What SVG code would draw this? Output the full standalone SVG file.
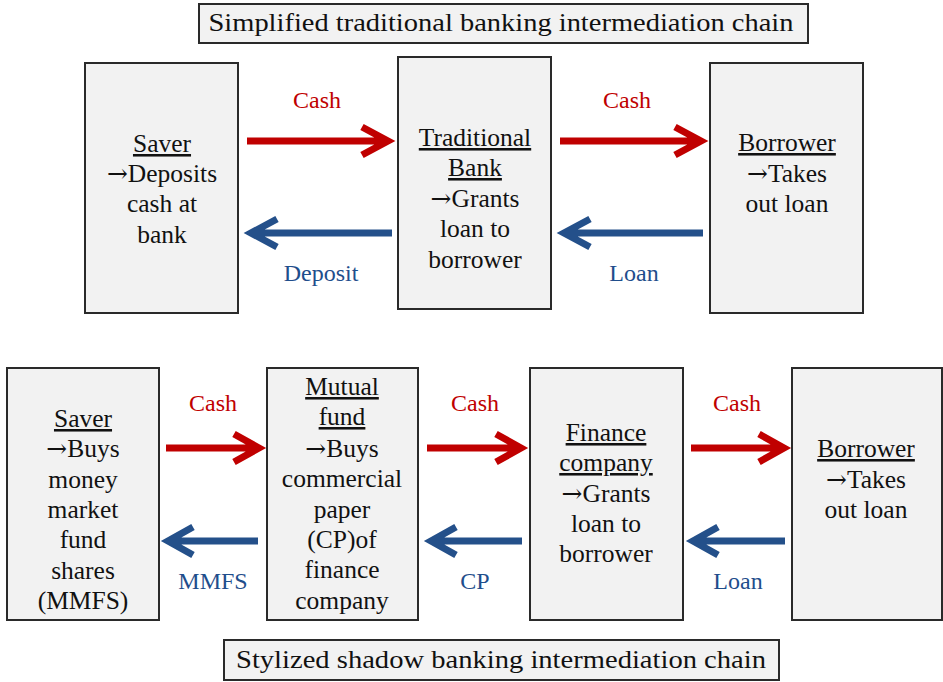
<svg xmlns="http://www.w3.org/2000/svg" width="943" height="682" viewBox="0 0 943 682">
<style>
.bg{fill:#ffffff}
.box{fill:#f2f2f2;stroke:#2a2a2a;stroke-width:2}
.t{font-family:"Liberation Serif","DejaVu Serif",serif;font-size:25.5px;fill:#111;text-anchor:middle}
.h{text-decoration:underline}
.a{font-family:"DejaVu Serif",serif;font-size:25px}
.tt{font-family:"Liberation Serif","DejaVu Serif",serif;font-size:25px;fill:#111;text-anchor:middle}
.lr{font-family:"Liberation Serif","DejaVu Serif",serif;font-size:24px;fill:#c00000;text-anchor:middle}
.lb{font-family:"Liberation Serif","DejaVu Serif",serif;font-size:24px;fill:#1f4e8c;text-anchor:middle}
.ar{fill:none;stroke:#c00000;stroke-width:7;stroke-linejoin:miter}
.ab{fill:none;stroke:#24508a;stroke-width:7;stroke-linejoin:miter}
</style>
<rect class="bg" x="0" y="0" width="943" height="682"/>

<g id="title-top">
<rect class="box" x="199" y="4" width="609" height="39"/>
<text class="tt" x="501" y="31" textLength="585" lengthAdjust="spacingAndGlyphs">Simplified traditional banking intermediation chain</text>
</g>

<g id="saver1">
<rect class="box" x="85" y="63" width="153" height="250"/>
<text class="t" x="162"><tspan class="h" x="162" y="152">Saver</tspan><tspan x="162" y="182"><tspan class="a">→</tspan>Deposits</tspan><tspan x="162" y="212">cash at</tspan><tspan x="162" y="243">bank</tspan></text>
</g>

<g id="bank">
<rect class="box" x="398" y="57" width="153" height="252"/>
<text class="t" x="475"><tspan class="h" x="475" y="146">Traditional</tspan><tspan class="h" x="475" y="176">Bank</tspan><tspan x="475" y="207"><tspan class="a">→</tspan>Grants</tspan><tspan x="475" y="237">loan to</tspan><tspan x="475" y="268">borrower</tspan></text>
</g>

<g id="borrower1">
<rect class="box" x="710" y="63" width="153" height="250"/>
<text class="t" x="787"><tspan class="h" x="787" y="151">Borrower</tspan><tspan x="787" y="182"><tspan class="a">→</tspan>Takes</tspan><tspan x="787" y="212">out loan</tspan></text>
</g>

<g id="saver2">
<rect class="box" x="7" y="368" width="152" height="252"/>
<text class="t" x="83"><tspan class="h" x="83" y="427">Saver</tspan><tspan x="83" y="457"><tspan class="a">→</tspan>Buys</tspan><tspan x="83" y="488">money</tspan><tspan x="83" y="518">market</tspan><tspan x="83" y="548">fund</tspan><tspan x="83" y="579">shares</tspan><tspan x="83" y="609">(MMFS)</tspan></text>
</g>

<g id="mmf">
<rect class="box" x="267" y="368" width="151" height="252"/>
<text class="t" x="342"><tspan class="h" x="342" y="395">Mutual</tspan><tspan class="h" x="342" y="425">fund</tspan><tspan x="342" y="457"><tspan class="a">→</tspan>Buys</tspan><tspan x="342" y="487">commercial</tspan><tspan x="342" y="518">paper</tspan><tspan x="342" y="548">(CP)of</tspan><tspan x="342" y="578">finance</tspan><tspan x="342" y="609">company</tspan></text>
</g>

<g id="finco">
<rect class="box" x="530" y="368" width="153" height="252"/>
<text class="t" x="606"><tspan class="h" x="606" y="441">Finance</tspan><tspan class="h" x="606" y="471">company</tspan><tspan x="606" y="502"><tspan class="a">→</tspan>Grants</tspan><tspan x="606" y="532">loan to</tspan><tspan x="606" y="562">borrower</tspan></text>
</g>

<g id="borrower2">
<rect class="box" x="792" y="368" width="150" height="252"/>
<text class="t" x="866"><tspan class="h" x="866" y="457">Borrower</tspan><tspan x="866" y="488"><tspan class="a">→</tspan>Takes</tspan><tspan x="866" y="518">out loan</tspan></text>
</g>

<g id="title-bottom">
<rect class="box" x="224" y="640" width="555" height="40"/>
<text class="tt" x="501" y="668" textLength="530" lengthAdjust="spacingAndGlyphs">Stylized shadow banking intermediation chain</text>
</g>

<g id="connectors">
<path class="ar" d="M247 141H386M362 127L388 141L362 155"/>
<path class="ab" d="M392 233H253M277 219L251 233L277 247"/>
<path class="ar" d="M560 141H699M675 127L701 141L675 155"/>
<path class="ab" d="M703 233H566M590 219L564 233L590 247"/>

<path class="ar" d="M166 448H256M234 434L259 448L234 462"/>
<path class="ab" d="M258 541H170M193 527L168 541L193 555"/>
<path class="ar" d="M427 448H518M496 434L521 448L496 462"/>
<path class="ab" d="M522 541H433M456 527L431 541L456 555"/>
<path class="ar" d="M691 448H781M759 434L784 448L759 462"/>
<path class="ab" d="M785 541H695M718 527L693 541L718 555"/>

<text class="lr" x="317" y="108">Cash</text>
<text class="lb" x="321" y="281">Deposit</text>
<text class="lr" x="627" y="108">Cash</text>
<text class="lb" x="634" y="281">Loan</text>
<text class="lr" x="213" y="411">Cash</text>
<text class="lb" x="213" y="589">MMFS</text>
<text class="lr" x="475" y="411">Cash</text>
<text class="lb" x="475" y="589">CP</text>
<text class="lr" x="737" y="411">Cash</text>
<text class="lb" x="738" y="589">Loan</text>
</g>
</svg>
